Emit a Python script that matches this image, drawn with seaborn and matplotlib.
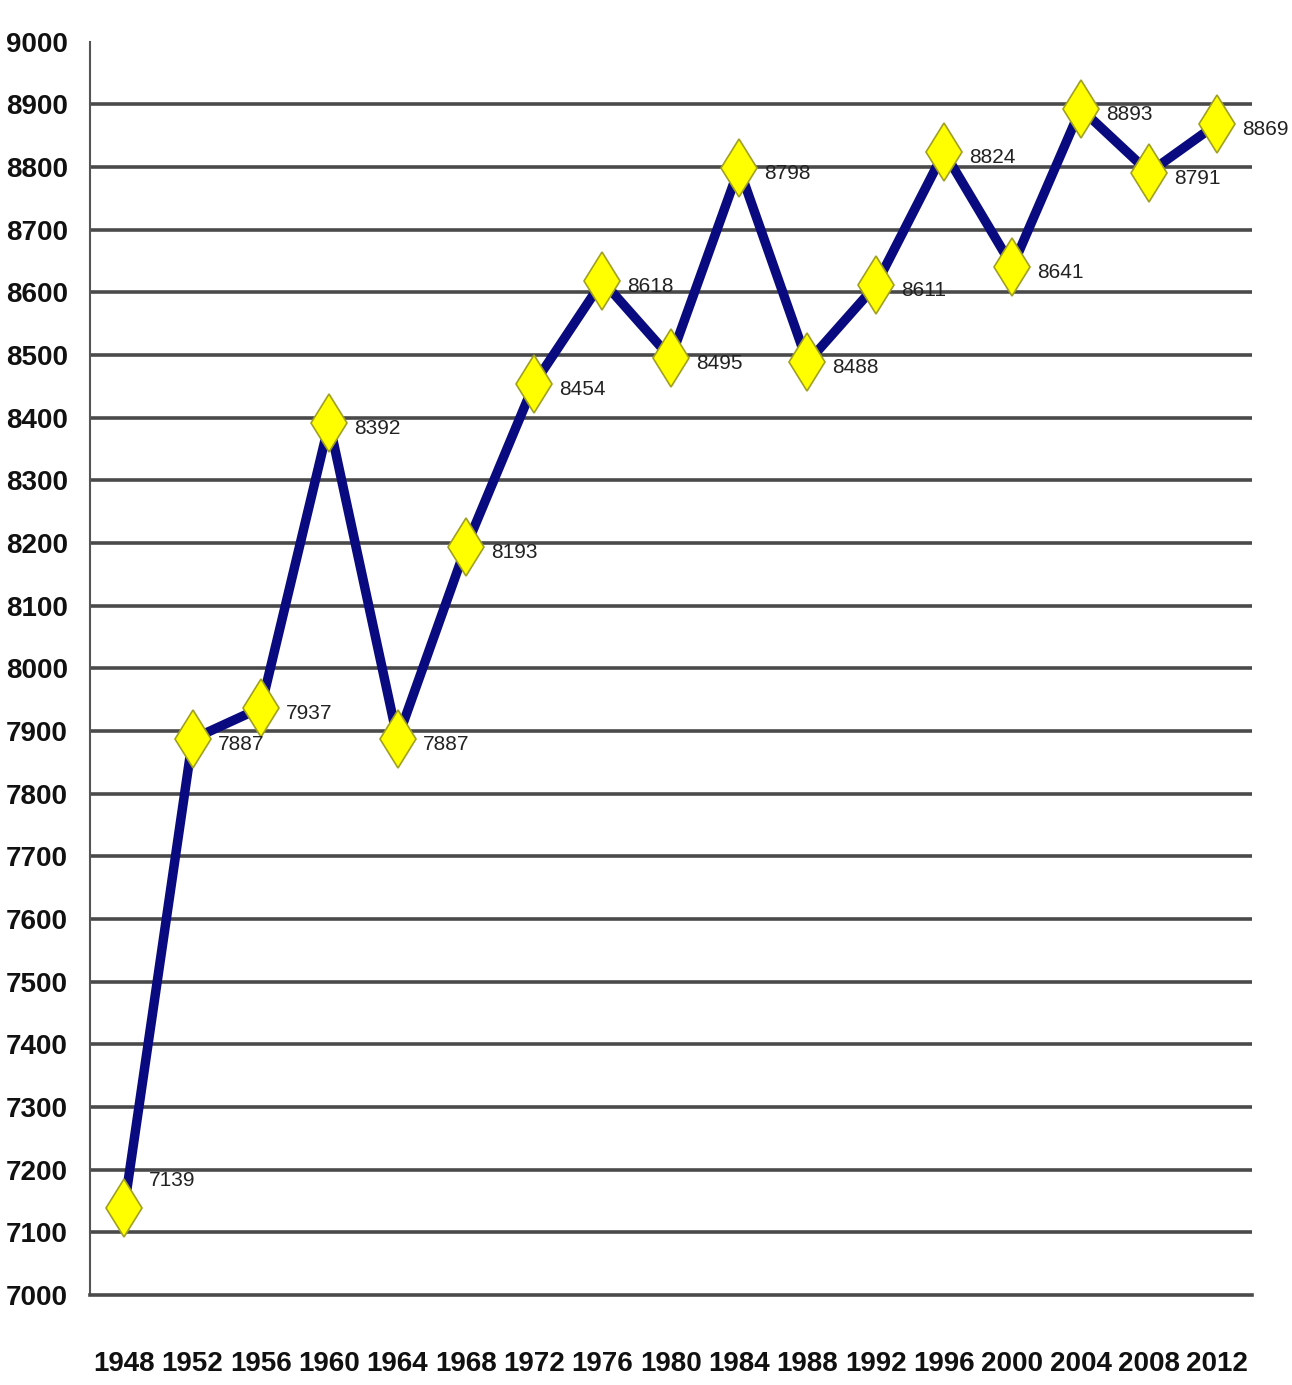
import matplotlib
matplotlib.use("Agg")
import matplotlib.pyplot as plt
import seaborn as sns
import pandas as pd
import numpy as np

years = [1948, 1952, 1956, 1960, 1964, 1968, 1972, 1976, 1980, 1984,
         1988, 1992, 1996, 2000, 2004, 2008, 2012]
values = [7139, 7887, 7937, 8392, 7887, 8193, 8454, 8618, 8495, 8798,
          8488, 8611, 8824, 8641, 8893, 8791, 8869]
y_ticks = list(range(7000, 9001, 100))

sns.set_theme(style="white")
plt.rcParams['font.family'] = ['Liberation Sans', 'DejaVu Sans']

df = pd.DataFrame({"year": years, "value": values})

fig = plt.figure(figsize=(12.92, 13.85), dpi=100)
ax = fig.add_axes([0.0697, 0.065, 0.899, 0.905])

# horizontal grid lines
for yv in y_ticks[1:-1]:
    ax.axhline(yv, color="#4a4a4a", lw=2.6, zorder=1)

sns.lineplot(data=df, x="year", y="value", ax=ax, color="#0a0a80",
             lw=6.8, marker="d", markersize=30, markerfacecolor="#ffff00",
             markeredgecolor="#a0a020", markeredgewidth=1.2, zorder=3)

# value labels to the right of each point
offsets = {1948: (18, 20)}
for yr, v in zip(years, values):
    dx, dy = offsets.get(yr, (18, -4))
    ax.annotate(str(v), (yr, v), xytext=(dx, dy), textcoords="offset points",
                ha="left", va="center", fontsize=15, color="#222222", zorder=4)

ax.set_xlim(1946, 2014)
ax.set_ylim(7000, 9000)
ax.set_yticks(y_ticks)
ax.set_yticklabels([str(t) for t in y_ticks], fontsize=20, fontweight="bold",
                   color="#111111")
ax.set_xticks(years)
ax.set_xticklabels([str(y) for y in years], fontsize=20, fontweight="bold",
                   color="#111111")
ax.set_xticks(np.arange(1946, 2015, 4), minor=True)
ax.tick_params(axis="x", which="major", length=0, pad=40)
ax.tick_params(axis="x", which="minor", length=10, width=1.5, color="#555555", direction="out")
ax.tick_params(axis="y", which="major", length=8, width=1.5, color="#555555",
               direction="out", pad=8)
ax.set_xlabel("")
ax.set_ylabel("")

for s in ["top", "right"]:
    ax.spines[s].set_visible(False)
ax.spines["left"].set_color("#555555")
ax.spines["left"].set_linewidth(1.5)
ax.spines["bottom"].set_color("#4a4a4a")
ax.spines["bottom"].set_linewidth(2.6)

fig.savefig("out.png", dpi=100)
